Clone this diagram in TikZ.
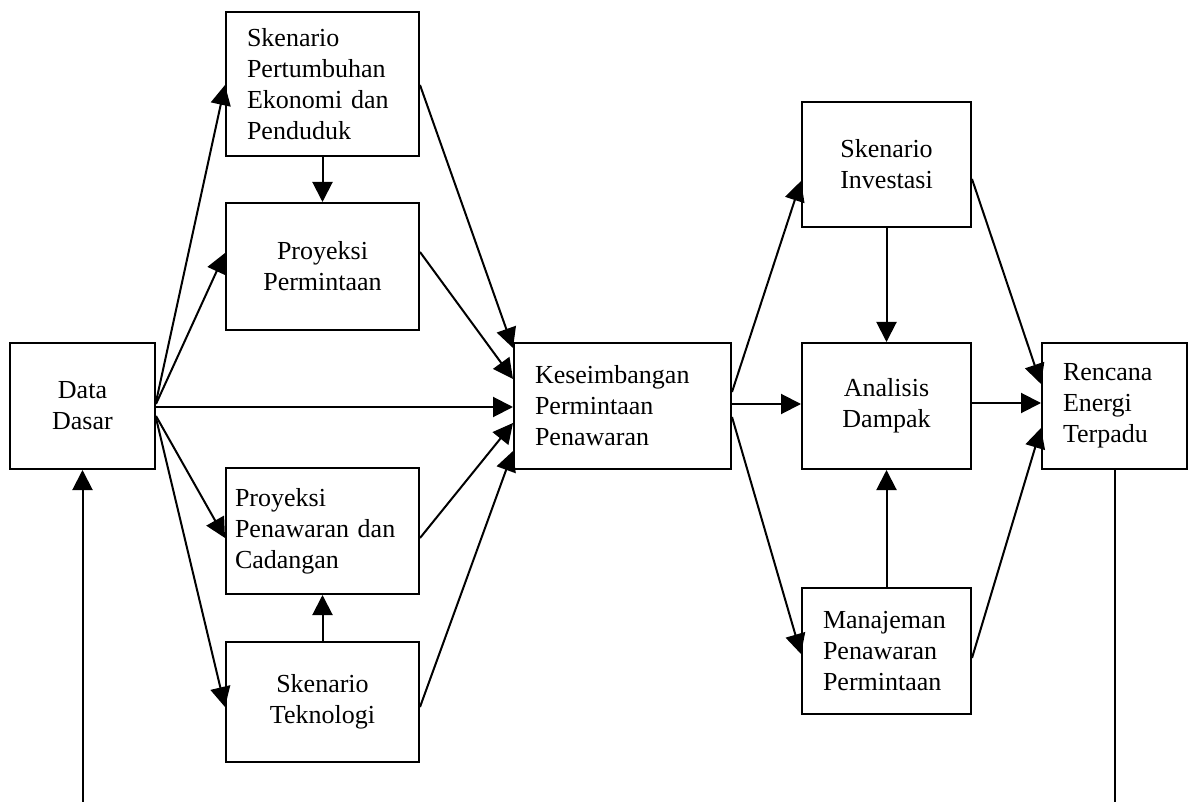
\documentclass[tikz,border=0pt]{standalone}
\usepackage{fontspec}
\setmainfont{Liberation Serif}
\usepackage{tikz}
\usetikzlibrary{arrows.meta,calc}

\begin{document}
\begin{tikzpicture}[x=1pt, y=-1pt,
    kotak/.style={draw, line width=2pt, inner sep=0pt, font=\fontsize{26}{31}\selectfont},
    kiri/.style={align=left, text width=#1},
    tengah/.style={align=center},
    panah/.style={line width=2pt, -{Triangle[length=20pt,width=20pt]}}]

  \useasboundingbox (0,0) rectangle (1189,802);

  % kolom kiri
  \node[kotak, tengah, minimum width=145pt, minimum height=126pt] (dd) at (82.5,406) {Data\\Dasar};
  \node[kotak, kiri=151pt, minimum width=193pt, minimum height=144pt] (sp) at (322.5,84) {Skenario\\Pertumbuhan\\Ekonomi dan\\Penduduk};
  \node[kotak, tengah, minimum width=193pt, minimum height=127pt] (pp) at (322.5,266.5) {Proyeksi\\Permintaan};
  \node[kotak, kiri=175pt, minimum width=193pt, minimum height=126pt] (pc) at (322.5,531) {Proyeksi\\Penawaran dan\\Cadangan};
  \node[kotak, tengah, minimum width=193pt, minimum height=120pt] (st) at (322.5,702) {Skenario\\Teknologi};

  % tengah
  \node[kotak, kiri=175pt, minimum width=217pt, minimum height=126pt] (kpp) at (622.5,406) {Keseimbangan\\Permintaan\\Penawaran};

  % kolom kanan
  \node[kotak, tengah, minimum width=169pt, minimum height=125pt] (si) at (886.5,164.5) {Skenario\\Investasi};
  \node[kotak, tengah, minimum width=169pt, minimum height=126pt] (ad) at (886.5,406) {Analisis\\Dampak};
  \node[kotak, kiri=127pt, minimum width=169pt, minimum height=126pt] (mp) at (886.5,651) {Manajeman\\Penawaran\\Permintaan};
  \node[kotak, kiri=103pt, minimum width=145pt, minimum height=126pt] (ret) at (1114.5,406) {Rencana\\Energi\\Terpadu};

  \coordinate (bawahkiri) at (82.5,802);
  \coordinate (bawahkanan) at (1114.5,802);

  % dari data dasar
  \draw[panah] ($(dd.east)+(0,-4)$) -- ($(sp.west)+(0,1)$);
  \draw[panah] ($(dd.east)+(0,-2)$) -- ($(pp.west)+(0,-13.5)$);
  \draw[panah] ($(dd.east)+(0,1)$) -- ($(kpp.west)+(0,1)$);
  \draw[panah] ($(dd.east)+(0,10)$) -- ($(pc.west)+(0,7)$);
  \draw[panah] ($(dd.east)+(0,12)$) -- ($(st.west)+(0,5)$);

  \draw[panah] (sp.south) -- (pp.north);
  \draw[panah] (st.north) -- (pc.south);

  % ke keseimbangan
  \draw[panah] ($(sp.east)+(0,1)$) -- ($(kpp.west)+(0,-58)$);
  \draw[panah] ($(pp.east)+(0,-14.5)$) -- ($(kpp.west)+(0,-27)$);
  \draw[panah] ($(pc.east)+(0,7)$) -- ($(kpp.west)+(0,17)$);
  \draw[panah] ($(st.east)+(0,5)$) -- ($(kpp.west)+(0,45)$);

  % dari keseimbangan
  \draw[panah] ($(kpp.east)+(0,-14)$) -- ($(si.west)+(0,16.5)$);
  \draw[panah] ($(kpp.east)+(0,-2)$) -- ($(ad.west)+(0,-2)$);
  \draw[panah] ($(kpp.east)+(0,11)$) -- ($(mp.west)+(0,3)$);

  \draw[panah] (si.south) -- (ad.north);
  \draw[panah] (mp.north) -- (ad.south);

  % ke rencana
  \draw[panah] ($(si.east)+(0,14.5)$) -- ($(ret.west)+(0,-22)$);
  \draw[panah] ($(ad.east)+(0,-3)$) -- ($(ret.west)+(0,-3)$);
  \draw[panah] ($(mp.east)+(0,7)$) -- ($(ret.west)+(0,22)$);

  % umpan balik
  \draw[panah] (bawahkiri) -- (dd.south);
  \draw[line width=2pt] (ret.south) -- (bawahkanan);

\end{tikzpicture}
\end{document}
